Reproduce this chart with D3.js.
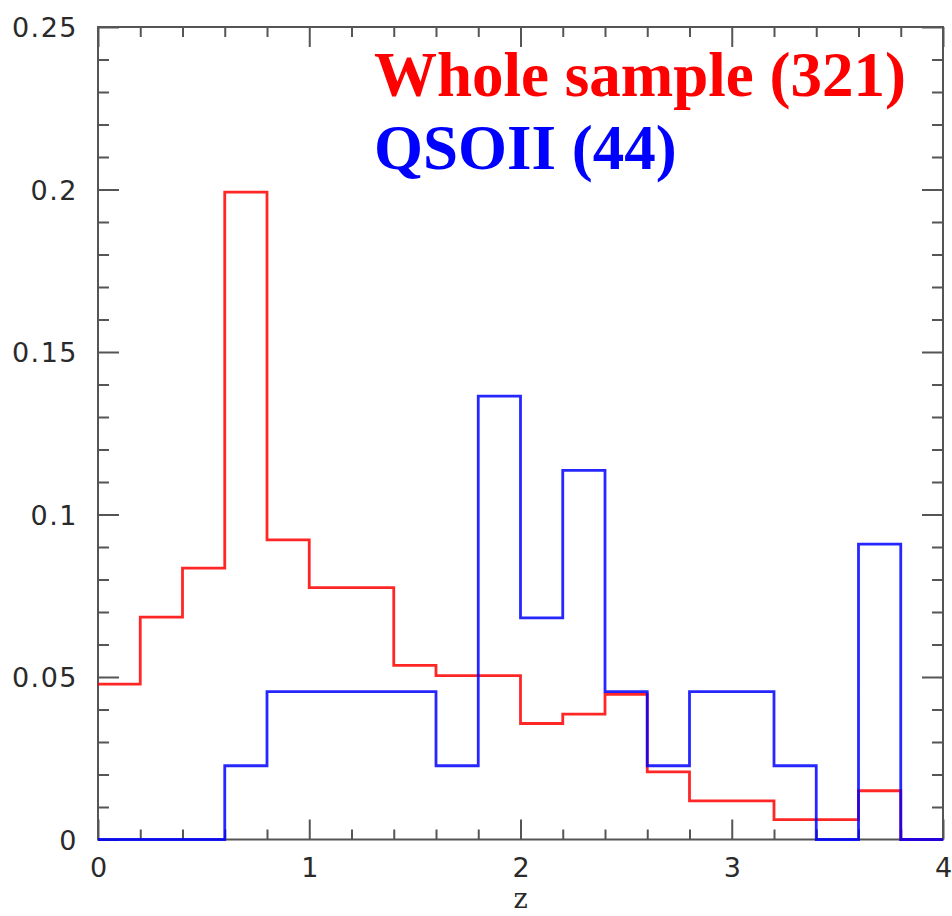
<!DOCTYPE html>
<html>
<head>
<meta charset="utf-8">
<script src="https://cdn.jsdelivr.net/npm/d3@7"></script>
<style>
  html, body { margin: 0; padding: 0; background: #fff; }
  svg { display: block; }
  .tick text { font-family: "DejaVu Sans", sans-serif; fill: #2a2a2a; }
  .tick line { stroke: #555; stroke-width: 2; }
</style>
</head>
<body>
<div id="chart"></div>
<script>
// bin edges in z (width 0.2)
const binEdges = d3.range(0, 21).map(i => +(i * 0.2).toFixed(1));

// fraction per bin
const wholeSample = [0.0478, 0.0684, 0.0835, 0.1992, 0.0922, 0.0775, 0.0775, 0.0536, 0.0504, 0.0504,
                     0.0357, 0.0386, 0.0447, 0.0208, 0.0119, 0.0119, 0.0061, 0.0061, 0.0150, 0.0];
const qso2        = [0, 0, 0, 0.0227, 0.0455, 0.0455, 0.0455, 0.0455, 0.0227, 0.1364,
                     0.0682, 0.1136, 0.0455, 0.0227, 0.0455, 0.0455, 0.0227, 0, 0.0909, 0];

const xMajor = [0, 1, 2, 3, 4];
const xMinor = d3.range(0, 21).filter(i => i % 5 !== 0).map(i => i * 0.2);
const yMajor = [0, 0.05, 0.1, 0.15, 0.2, 0.25];
const yMinor = d3.range(0, 26).filter(i => i % 5 !== 0).map(i => i / 100);

const legend = [
  { label: "Whole sample (321)", color: "#ff0000" },
  { label: "QSOII (44)",         color: "#0000ff" }
];

const width = 952, height = 916;
const plotL = 98, plotR = 943, plotT = 27, plotB = 839.5;

const svg = d3.select("#chart").append("svg")
  .attr("width", width)
  .attr("height", height);

const x = d3.scaleLinear().domain([0, 4]).range([plotL, plotR]);
const y = d3.scaleLinear().domain([0, 0.25]).range([plotB, plotT]);

// ticks, all pointing inward
function tickAxis(axis, transform, vals, size, fmt, pad) {
  const g = svg.append("g")
    .attr("transform", transform)
    .call(axis.tickValues(vals).tickSize(-size).tickPadding(pad).tickFormat(fmt));
  g.select(".domain").remove();
  return g;
}

const yFmt = d => d === 0 ? "0" : String(d);

tickAxis(d3.axisBottom(x), `translate(0,${plotB})`, xMinor, 10, "", 0);
tickAxis(d3.axisBottom(x), `translate(0,${plotB})`, xMajor, 20, d3.format("d"), 18)
  .selectAll("text").style("font-size", "27px");
tickAxis(d3.axisTop(x), `translate(0,${plotT})`, xMinor, 10, "", 0);
tickAxis(d3.axisTop(x), `translate(0,${plotT})`, xMajor, 20, "", 0);

tickAxis(d3.axisLeft(y), `translate(${plotL},0)`, yMinor, 11, "", 0);
tickAxis(d3.axisLeft(y), `translate(${plotL},0)`, yMajor, 21, yFmt, 20)
  .selectAll("text")
    .style("font-size", "27px")
    .style("letter-spacing", "1.5px")
    .attr("dy", "0.36em");
tickAxis(d3.axisRight(y), `translate(${plotR},0)`, yMinor, 11, "", 0);
tickAxis(d3.axisRight(y), `translate(${plotR},0)`, yMajor, 21, "", 0);

// frame
svg.append("rect")
  .attr("x", plotL).attr("y", plotT)
  .attr("width", plotR - plotL).attr("height", plotB - plotT)
  .attr("fill", "none")
  .attr("stroke", "#555")
  .attr("stroke-width", 2);

// step histograms
const step = d3.line()
  .x(d => x(d[0]))
  .y(d => y(d[1]))
  .curve(d3.curveStepAfter);

function histPoints(vals) {
  const pts = vals.map((v, i) => [binEdges[i], v]);
  pts.push([binEdges[binEdges.length - 1], vals[vals.length - 1]]);
  return pts;
}

[wholeSample, qso2].forEach((vals, i) => {
  svg.append("path")
    .datum(histPoints(vals))
    .attr("fill", "none")
    .attr("stroke", legend[i].color)
    .attr("stroke-width", 2.8)
    .attr("stroke-opacity", 0.85)
    .attr("d", step);
});

// axis label
svg.append("text")
  .attr("x", x(2))
  .attr("y", 908)
  .attr("text-anchor", "middle")
  .style("font-family", "'DejaVu Serif', serif")
  .style("font-size", "27px")
  .attr("fill", "#2a2a2a")
  .text("z");

// legend text
svg.selectAll("text.legend")
  .data(legend)
  .join("text")
    .attr("class", "legend")
    .attr("x", 374)
    .attr("y", (d, i) => 96 + i * 73)
    .style("font-family", "'Liberation Serif', 'Times New Roman', serif")
    .style("font-weight", "bold")
    .style("font-size", "63px")
    .attr("fill", d => d.color)
    .text(d => d.label);
</script>
</body>
</html>
